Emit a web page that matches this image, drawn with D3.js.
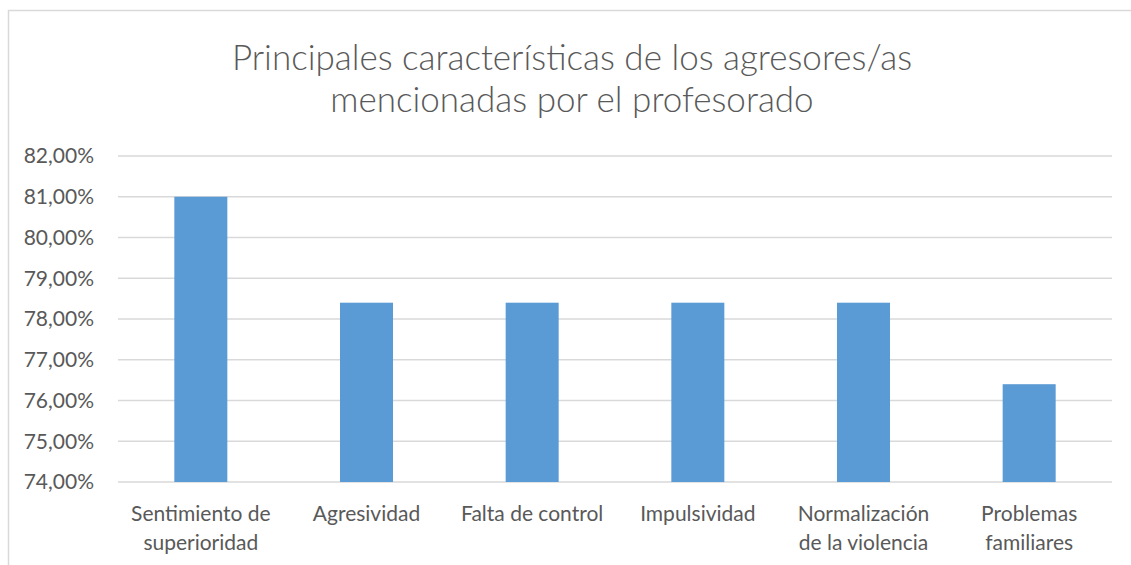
<!DOCTYPE html>
<html>
<head>
<meta charset="utf-8">
<script src="https://cdn.jsdelivr.net/npm/d3@7"></script>
<style>
  body { margin: 0; background: #fff; }
  svg { font-family: "Lato", "Open Sans", sans-serif; }
</style>
</head>
<body>
<svg width="1131" height="565"></svg>
<script>
var categories = ["Sentimiento de superioridad", "Agresividad", "Falta de control",
                  "Impulsividad", "Normalización de la violencia", "Problemas familiares"];
var values = [0.81, 0.784, 0.784, 0.784, 0.784, 0.764];
var yTicks = [0.74, 0.75, 0.76, 0.77, 0.78, 0.79, 0.80, 0.81, 0.82];
var titleLines = ["Principales características de los agresores/as", "mencionadas por el profesorado"];

var svg = d3.select("svg");
var textColor = "#595959", gridColor = "#d9d9d9", barColor = "#5b9bd5";

var margin = {left: 118, right: 19, top: 156, bottom: 83};
var w = 1131, h = 565;

// chart frame
svg.append("path")
  .attr("d", "M8.5,565V10.5H1131")
  .attr("fill", "none")
  .attr("stroke", gridColor)
  .attr("stroke-width", 1.5);

var x = d3.scaleBand()
  .domain(categories)
  .range([margin.left, w - margin.right]);

var y = d3.scaleLinear()
  .domain([0.74, 0.82])
  .range([h - margin.bottom, margin.top]);

var fmt = function(d) { return d3.format(".2f")(d * 100).replace(".", ",") + "%"; };

// gridlines
svg.append("g")
  .selectAll("line")
  .data(yTicks)
  .enter()
  .append("line")
  .attr("x1", margin.left)
  .attr("x2", w - margin.right)
  .attr("y1", function(d) { return y(d); })
  .attr("y2", function(d) { return y(d); })
  .attr("stroke", gridColor)
  .attr("stroke-width", 1.5);

// y labels
svg.append("g")
  .selectAll("text")
  .data(yTicks)
  .enter()
  .append("text")
  .attr("x", 94)
  .attr("y", function(d) { return y(d); })
  .attr("dy", "0.35em")
  .attr("text-anchor", "end")
  .attr("fill", textColor)
  .style("font-size", "21px")
  .text(fmt);

// bars
var barW = x.bandwidth() * 0.32;
svg.append("g")
  .selectAll("rect")
  .data(values)
  .enter()
  .append("rect")
  .attr("x", function(d, i) { return x(categories[i]) + x.bandwidth() / 2 - barW / 2; })
  .attr("width", barW)
  .attr("y", function(d) { return y(d); })
  .attr("height", function(d) { return y(0.74) - y(d); })
  .attr("fill", barColor);

// category labels, wrapped
var labels = svg.append("g")
  .selectAll("text")
  .data(categories)
  .enter()
  .append("text")
  .attr("x", function(d) { return x(d) + x.bandwidth() / 2; })
  .attr("y", 521)
  .attr("text-anchor", "middle")
  .attr("fill", textColor)
  .style("font-size", "21px");

labels.each(function(d) {
  var t = d3.select(this), words = d.split(" "), line = [], lines = [];
  var probe = t.append("tspan");
  words.forEach(function(wd) {
    line.push(wd);
    probe.text(line.join(" "));
    if (probe.node().getComputedTextLength() > 158 && line.length > 1) {
      line.pop();
      lines.push(line.join(" "));
      line = [wd];
    }
  });
  lines.push(line.join(" "));
  probe.remove();
  lines.forEach(function(l, i) {
    t.append("tspan")
      .attr("x", t.attr("x"))
      .attr("dy", i === 0 ? 0 : 29)
      .text(l);
  });
});

// title
svg.append("g")
  .selectAll("text")
  .data(titleLines)
  .enter()
  .append("text")
  .attr("x", 572)
  .attr("y", function(d, i) { return 70 + i * 42; })
  .attr("text-anchor", "middle")
  .attr("fill", textColor)
  .style("font-size", "35px")
  .style("font-weight", 300)
  .text(function(d) { return d; });
</script>
</body>
</html>
